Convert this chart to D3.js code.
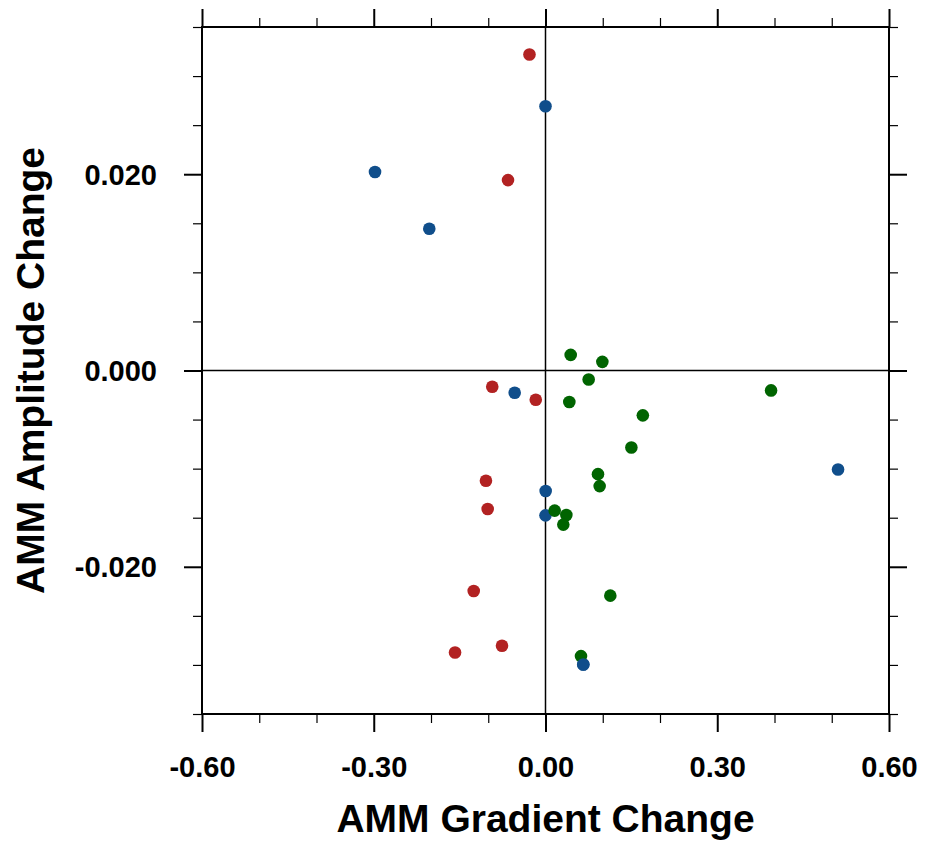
<!DOCTYPE html>
<html>
<head>
<meta charset="utf-8">
<script src="https://d3js.org/d3.v7.min.js"></script>
<style>
  body { margin: 0; background: #fff; }
  svg text { font-family: "Liberation Sans", Arial, Helvetica, sans-serif; font-weight: bold; fill: #000; }
</style>
</head>
<body>
<div id="chart"></div>
<script>
(function() {

    // gradient change (x) and amplitude change (y), one pair of arrays per group
    const redX = [-0.028, -0.0655, -0.093, -0.017, -0.104, -0.101, -0.1254, -0.158, -0.076];
    const redY = [0.0322, 0.0194, -0.00166, -0.00298, -0.01124, -0.01411, -0.02247, -0.02873, -0.02805];

    const blueX = [0.000, -0.2978, -0.203, -0.0538, 0.0003, 0.000, 0.511, 0.066];
    const blueY = [0.02693, 0.02023, 0.01445, -0.00227, -0.01228, -0.01476, -0.01008, -0.02995];

    const greenX = [0.044, 0.0993, 0.0754, 0.0416, 0.394, 0.170, 0.150, 0.0917, 0.0946, 0.016, 0.0364, 0.0311, 0.1132, 0.062];
    const greenY = [0.00159, 0.00088, -0.00091, -0.00321, -0.00203, -0.00457, -0.00785, -0.01056, -0.01178, -0.01428, -0.01472, -0.0157, -0.02294, -0.0291];

    const xMajor = [-0.6, -0.3, 0, 0.3, 0.6];
    const xMinor = [-0.5, -0.4, -0.2, -0.1, 0.1, 0.2, 0.4, 0.5];
    const yMajor = [-0.02, 0, 0.02];
    const yMinor = [-0.035, -0.03, -0.025, -0.015, -0.01, -0.005, 0.005, 0.01, 0.015, 0.025, 0.03, 0.035];

    const W = 925, H = 842;
    const left = 202, right = 889, top = 27, bottom = 714;

    const x = d3.scaleLinear().domain([-0.6, 0.6]).range([left, right]);
    const y = d3.scaleLinear().domain([-0.035, 0.035]).range([bottom, top]);

    // plain hyphen for negatives, like the original
    function fmt(p) {
        var f = d3.format("." + p + "f");
        return function(d) { return f(d).replace("\u2212", "-"); };
    }

    const svg = d3.select("#chart").append("svg")
        .attr("width", W)
        .attr("height", H);

    // zero lines
    svg.append("line")
        .attr("x1", x(0)).attr("x2", x(0))
        .attr("y1", top).attr("y2", bottom)
        .attr("stroke", "#000").attr("stroke-width", 1.5);
    svg.append("line")
        .attr("x1", left).attr("x2", right)
        .attr("y1", y(0)).attr("y2", y(0))
        .attr("stroke", "#000").attr("stroke-width", 1.5);

    // points
    function addPoints(xs, ys, color) {
        return svg.append("g").selectAll("circle")
            .data(xs)
            .enter()
            .append("circle")
            .attr("cx", function(d) { return x(d); })
            .attr("cy", function(d, i) { return y(ys[i]); })
            .attr("r", 6.3)
            .attr("fill", color);
    }
    addPoints(redX, redY, "#B22222");
    var blueDots = addPoints(blueX, blueY, "#104E8B");
    addPoints(greenX, greenY, "#006400");
    // the lowest blue dot sits on top of its green neighbour
    svg.append(function() { return blueDots.nodes()[7].cloneNode(); });

    // frame with outward ticks on all four sides
    svg.append("rect")
        .attr("x", left).attr("y", top)
        .attr("width", right - left).attr("height", bottom - top)
        .attr("fill", "none").attr("stroke", "#000").attr("stroke-width", 2);

    const majorLen = 18, minorLen = 9;

    const axBottom = d3.axisBottom(x).tickValues(xMajor).tickSize(majorLen).tickFormat(fmt(2));
    const axTop = d3.axisTop(x).tickValues(xMajor).tickSize(majorLen).tickFormat("");
    const axLeft = d3.axisLeft(y).tickValues(yMajor).tickSize(majorLen).tickFormat(fmt(3));
    const axRight = d3.axisRight(y).tickValues(yMajor).tickSize(majorLen).tickFormat("");

    function styleAxis(g, fontSize) {
        g.select(".domain").remove();
        g.selectAll("line").attr("stroke", "#000").attr("stroke-width", 2);
        g.selectAll("text").attr("font-size", fontSize).attr("font-family", null);
    }

    svg.append("g").attr("transform", "translate(0," + bottom + ")")
        .call(axBottom).call(styleAxis, 29)
        .selectAll("text").attr("dy", null).attr("y", 63);
    svg.append("g").attr("transform", "translate(0," + top + ")")
        .call(axTop).call(styleAxis, 29);
    svg.append("g").attr("transform", "translate(" + left + ",0)")
        .call(axLeft).call(styleAxis, 29)
        .selectAll("text").attr("x", -45).attr("dy", "0.35em");
    svg.append("g").attr("transform", "translate(" + right + ",0)")
        .call(axRight).call(styleAxis, 29);

    // minor ticks
    function minor(axis, pos) {
        svg.append("g").attr("transform", pos)
            .call(axis.tickSize(minorLen).tickFormat(""))
            .call(function(g) {
                g.select(".domain").remove();
                g.selectAll("line").attr("stroke", "#000").attr("stroke-width", 1.2);
            });
    }
    minor(d3.axisBottom(x).tickValues(xMinor), "translate(0," + bottom + ")");
    minor(d3.axisTop(x).tickValues(xMinor), "translate(0," + top + ")");
    minor(d3.axisLeft(y).tickValues(yMinor), "translate(" + left + ",0)");
    minor(d3.axisRight(y).tickValues(yMinor), "translate(" + right + ",0)");

    // axis titles
    svg.append("text")
        .attr("x", x(0))
        .attr("y", 832)
        .attr("text-anchor", "middle")
        .attr("font-size", 39)
        .text("AMM Gradient Change");

    svg.append("text")
        .attr("transform", "translate(44," + y(0) + ") rotate(-90)")
        .attr("text-anchor", "middle")
        .attr("font-size", 39)
        .text("AMM Amplitude Change");
})();
</script>
</body>
</html>
